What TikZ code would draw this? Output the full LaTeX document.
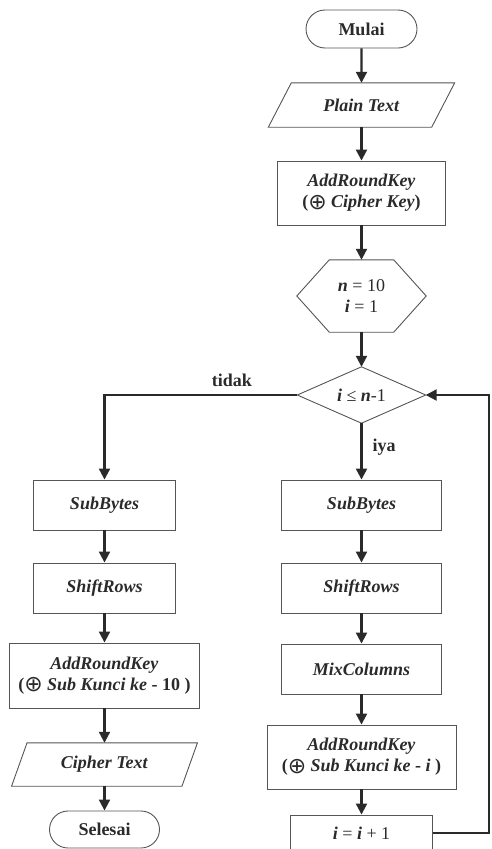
\documentclass[tikz,border=0pt]{standalone}
\usepackage{fontspec}
\setmainfont{Liberation Serif}
\newfontfamily\symfont{DejaVu Sans}
\usetikzlibrary{arrows.meta,shapes.misc}
\definecolor{ink}{HTML}{2A2A2A}
\definecolor{edge}{HTML}{555555}
\newcommand{\bi}[1]{\textbf{\textit{#1}}}
\newcommand{\rg}[1]{\textmd{\textup{#1}}}
\newcommand{\xorsym}{{\symfont\mdseries\upshape\fontsize{22}{21}\selectfont\raisebox{-1.5pt}{⊕}}}
\tikzset{
  base/.style={inner sep=0pt, align=center, text=ink, font=\fontsize{18}{21}\selectfont\bfseries},
  procbox/.style={base, draw=edge, line width=0.9pt, minimum width=#1},
  termbox/.style={base, draw=edge, line width=0.9pt, rounded rectangle, minimum width=#1},
  ghost/.style={base, minimum width=#1},
  outline/.style={draw=edge, line width=0.9pt, line join=miter},
  conn/.style={draw=ink, line width=2.2pt, -{Triangle[length=11pt,width=11pt]}},
  lbl/.style={base, text=ink}
}
\begin{document}
\begin{tikzpicture}[x=1pt,y=-1pt]
\useasboundingbox (0,0) rectangle (492,849);
% right column
\node[termbox=111, minimum height=38] (mulai) at (361.5,29) {Mulai};
\node[ghost=163, minimum height=44] (plain) at (361.5,105) {\bi{Plain Text}};
\draw[outline] ([xshift=-11.5pt]plain.south west) -- ([xshift=11.5pt]plain.north west) -- ([xshift=11.5pt]plain.north east) -- ([xshift=-11.5pt]plain.south east) -- cycle;
\node[procbox=168, minimum height=64] (ark1) at (361.5,193) {\bi{AddRoundKey}\\(\xorsym{} \bi{Cipher Key})};
\node[ghost=129, minimum height=72] (hex) at (361.5,296) {\bi{n} \rg{= 10}\\\bi{i} \rg{= 1}};
\draw[outline] (hex.west) -- ([xshift=32.5pt]hex.north west) -- ([xshift=-32.5pt]hex.north east) -- (hex.east) -- ([xshift=-32.5pt]hex.south east) -- ([xshift=32.5pt]hex.south west) -- cycle;
\node[ghost=128, minimum height=56] (dec) at (361.5,395) {\bi{i} \rg{≤} \bi{n}\rg{-1}};
\draw[outline] (dec.west) -- (dec.north) -- (dec.east) -- (dec.south) -- cycle;
\node[procbox=160, minimum height=50] (rsub) at (361.5,505) {\bi{SubBytes}};
\node[procbox=160, minimum height=50] (rshift) at (361.5,588) {\bi{ShiftRows}};
\node[procbox=160, minimum height=50] (rmix) at (361.5,669) {\bi{MixColumns}};
\node[procbox=189, minimum height=64] (ark2) at (361.5,757) {\bi{AddRoundKey}\\(\xorsym{} \bi{Sub Kunci ke} - \bi{i} )};
\node[procbox=142, minimum height=36] (inc) at (361.5,833) {\bi{i} \rg{=} \bi{i} \rg{+ 1}};
% left column
\node[procbox=142, minimum height=50] (lsub) at (104.5,505) {\bi{SubBytes}};
\node[procbox=142, minimum height=50] (lshift) at (104.5,588) {\bi{ShiftRows}};
\node[procbox=190, minimum height=65] (lark) at (104.5,675.5) {\bi{AddRoundKey}\\(\xorsym{} \bi{Sub Kunci ke} - 10 )};
\node[ghost=170, minimum height=43] (cipher) at (104.5,764.5) {\bi{Cipher Text}};
\draw[outline] ([xshift=-7.75pt]cipher.south west) -- ([xshift=7.75pt]cipher.north west) -- ([xshift=7.75pt]cipher.north east) -- ([xshift=-7.75pt]cipher.south east) -- cycle;
\node[termbox=110, minimum height=37] (selesai) at (104.5,829.5) {Selesai};
% labels
\node[lbl] (tidak) at (232,380) {tidak};
\node[lbl] (iya) at (384,447) {iya};
% connectors
\draw[conn] (mulai) -- (plain);
\draw[conn] (plain) -- (ark1);
\draw[conn] (ark1) -- (hex);
\draw[conn] (hex) -- (dec);
\draw[conn] (dec) -- (rsub);
\draw[conn] (rsub) -- (rshift);
\draw[conn] (rshift) -- (rmix);
\draw[conn] (rmix) -- (ark2);
\draw[conn] (ark2) -- (inc);
\coordinate (loopc) at (489,395);
\draw[conn] (inc.east) -| (loopc) -- (dec.east);
\draw[conn] (dec.west) -| (lsub.north);
\draw[conn] (lsub) -- (lshift);
\draw[conn] (lshift) -- (lark);
\draw[conn] (lark) -- (cipher);
\draw[conn] (cipher) -- (selesai);
\end{tikzpicture}
\end{document}
